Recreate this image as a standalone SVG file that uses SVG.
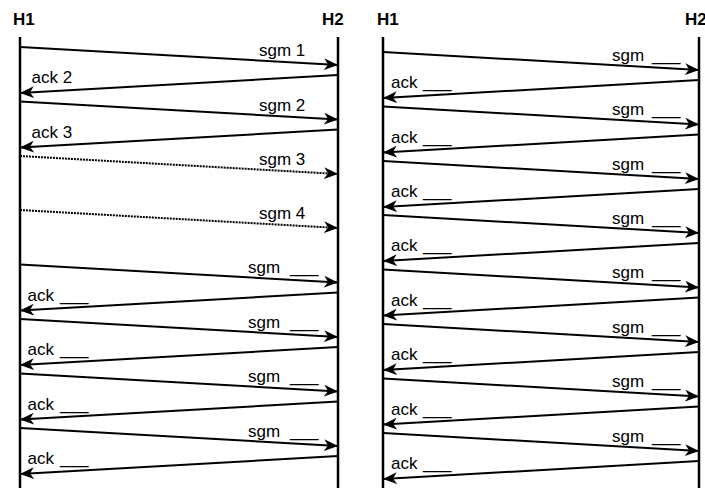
<svg xmlns="http://www.w3.org/2000/svg" width="705" height="488" viewBox="0 0 705 488">
<defs>
<marker id="ah" markerUnits="userSpaceOnUse" viewBox="0 0 14 12" markerWidth="14" markerHeight="12" refX="14" refY="6" orient="auto">
<path d="M0,0 L14,6 L0,12 L4,6 Z" fill="#000"/>
</marker>
</defs>
<style>
text{font-family:"Liberation Sans",Arial,Helvetica,sans-serif;font-size:17px;fill:#000}
.hd{font-weight:bold}
.life{stroke:#000;stroke-width:2.5}
.m{stroke:#000;stroke-width:2;fill:none;marker-end:url(#ah)}
.d{stroke-dasharray:2 1}
</style>
<rect width="705" height="488" fill="#fff"/>
<g id="left-H1"><text class="hd" x="13" y="25">H1</text><line class="life" x1="20" y1="37" x2="20" y2="488"/></g>
<g id="left-H2"><text class="hd" x="322" y="25">H2</text><line class="life" x1="338" y1="37" x2="338" y2="488"/></g>
<g id="right-H1"><text class="hd" x="377" y="25">H1</text><line class="life" x1="383" y1="37" x2="383" y2="488"/></g>
<g id="right-H2"><text class="hd" x="685" y="25">H2</text><line class="life" x1="699" y1="37" x2="699" y2="488"/></g>
<g id="connectors">
<line class="m" x1="20" y1="47" x2="338" y2="65"/>
<line class="m" x1="338" y1="75" x2="20" y2="93"/>
<line class="m" x1="20" y1="101.5" x2="338" y2="119.5"/>
<line class="m" x1="338" y1="129.5" x2="20" y2="147.5"/>
<line class="m d" x1="20" y1="156" x2="338" y2="174"/>
<line class="m d" x1="20" y1="210" x2="338" y2="228"/>
<line class="m" x1="20" y1="264.5" x2="338" y2="282.5"/>
<line class="m" x1="338" y1="292.5" x2="20" y2="310.5"/>
<line class="m" x1="20" y1="319" x2="338" y2="337"/>
<line class="m" x1="338" y1="347" x2="20" y2="365"/>
<line class="m" x1="20" y1="373.5" x2="338" y2="391.5"/>
<line class="m" x1="338" y1="401.5" x2="20" y2="419.5"/>
<line class="m" x1="20" y1="428" x2="338" y2="446"/>
<line class="m" x1="338" y1="456" x2="20" y2="474"/>

<line class="m" x1="383" y1="52" x2="699" y2="70"/>
<line class="m" x1="699" y1="80" x2="383" y2="98"/>
<line class="m" x1="383" y1="106.5" x2="699" y2="124.5"/>
<line class="m" x1="699" y1="134.5" x2="383" y2="152.5"/>
<line class="m" x1="383" y1="161" x2="699" y2="179"/>
<line class="m" x1="699" y1="189" x2="383" y2="207"/>
<line class="m" x1="383" y1="215" x2="699" y2="233"/>
<line class="m" x1="699" y1="243" x2="383" y2="261"/>
<line class="m" x1="383" y1="269.5" x2="699" y2="287.5"/>
<line class="m" x1="699" y1="297.5" x2="383" y2="315.5"/>
<line class="m" x1="383" y1="324" x2="699" y2="342"/>
<line class="m" x1="699" y1="352" x2="383" y2="370"/>
<line class="m" x1="383" y1="378.5" x2="699" y2="396.5"/>
<line class="m" x1="699" y1="406.5" x2="383" y2="424.5"/>
<line class="m" x1="383" y1="433" x2="699" y2="451"/>
<line class="m" x1="699" y1="461" x2="383" y2="479"/>

<text x="259" y="56">sgm 1</text>
<text x="31.5" y="83">ack 2</text>
<text x="259" y="110.5">sgm 2</text>
<text x="31.5" y="137.5">ack 3</text>
<text x="259" y="164.5">sgm 3</text>
<text x="259" y="218.5">sgm 4</text>
<text y="273"><tspan x="248">sgm</tspan><tspan x="290">___</tspan></text>
<text y="300.5"><tspan x="27.5">ack</tspan><tspan x="60">___</tspan></text>
<text y="327.5"><tspan x="248">sgm</tspan><tspan x="290">___</tspan></text>
<text y="355"><tspan x="27.5">ack</tspan><tspan x="60">___</tspan></text>
<text y="382"><tspan x="248">sgm</tspan><tspan x="290">___</tspan></text>
<text y="409.5"><tspan x="27.5">ack</tspan><tspan x="60">___</tspan></text>
<text y="436.5"><tspan x="248">sgm</tspan><tspan x="290">___</tspan></text>
<text y="464"><tspan x="27.5">ack</tspan><tspan x="60">___</tspan></text>

<text y="60.5"><tspan x="612">sgm</tspan><tspan x="652">___</tspan></text>
<text y="88"><tspan x="391">ack</tspan><tspan x="423">___</tspan></text>
<text y="115"><tspan x="612">sgm</tspan><tspan x="652">___</tspan></text>
<text y="142.5"><tspan x="391">ack</tspan><tspan x="423">___</tspan></text>
<text y="169.5"><tspan x="612">sgm</tspan><tspan x="652">___</tspan></text>
<text y="197"><tspan x="391">ack</tspan><tspan x="423">___</tspan></text>
<text y="223.5"><tspan x="612">sgm</tspan><tspan x="652">___</tspan></text>
<text y="251"><tspan x="391">ack</tspan><tspan x="423">___</tspan></text>
<text y="278"><tspan x="612">sgm</tspan><tspan x="652">___</tspan></text>
<text y="305.5"><tspan x="391">ack</tspan><tspan x="423">___</tspan></text>
<text y="332.5"><tspan x="612">sgm</tspan><tspan x="652">___</tspan></text>
<text y="360"><tspan x="391">ack</tspan><tspan x="423">___</tspan></text>
<text y="387"><tspan x="612">sgm</tspan><tspan x="652">___</tspan></text>
<text y="414.5"><tspan x="391">ack</tspan><tspan x="423">___</tspan></text>
<text y="441.5"><tspan x="612">sgm</tspan><tspan x="652">___</tspan></text>
<text y="469"><tspan x="391">ack</tspan><tspan x="423">___</tspan></text>
</g>
</svg>
